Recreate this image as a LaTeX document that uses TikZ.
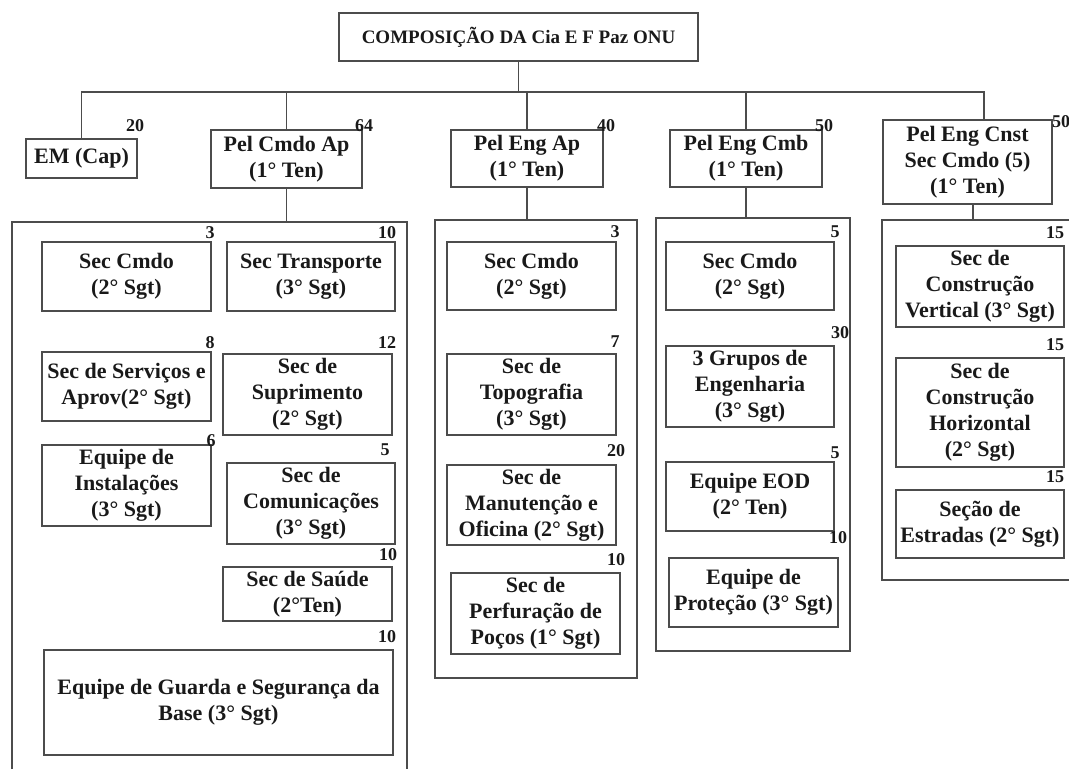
\documentclass[tikz,border=0pt]{standalone}
\usepackage{fontspec}
\setmainfont{Liberation Serif}
\tikzset{
  org/.style={draw=black!70, line width=1.1pt},
  unit/.style={draw=black!70, line width=1.1pt, align=center, inner sep=1pt,
    font=\fontsize{22}{26}\selectfont\bfseries, text=black!90},
  qtd/.style={font=\fontsize{18}{20}\selectfont\bfseries, inner sep=0pt, text=black!90},
}
\begin{document}
\begin{tikzpicture}[x=1pt, y=-1pt]
    \useasboundingbox (0,0) rectangle (1069,769);

    % Company and platoons
    \node[unit, minimum width=359pt, minimum height=48pt, font=\fontsize{19}{22}\selectfont\bfseries] (cia) at (518.5,37) {COMPOSIÇÃO DA Cia E F Paz ONU};
    \node[unit, minimum width=111pt, minimum height=39pt] (em) at (81.5,158.5) {EM (Cap)};
    \node[unit, minimum width=151pt, minimum height=58pt] (pca) at (286.5,159) {Pel Cmdo Ap\\(1° Ten)};
    \node[unit, minimum width=152pt, minimum height=57pt] (pea) at (527,158.5) {Pel Eng Ap\\(1° Ten)};
    \node[unit, minimum width=152pt, minimum height=57pt] (pec) at (746,158.5) {Pel Eng Cmb\\(1° Ten)};
    \node[unit, minimum width=169pt, minimum height=84pt] (pen) at (967.5,162) {Pel Eng Cnst\\Sec Cmdo (5)\\(1° Ten)};

    % Bus and frame tops
    \coordinate (bus) at (0,92);
    \coordinate (top1) at (0,222);
    \coordinate (top2) at (0,220);
    \coordinate (top3) at (0,218);
    \coordinate (top4) at (0,220);
    \coordinate (penin) at ([xshift=16.5pt]pen.north);
    \coordinate (penout) at ([xshift=5.5pt]pen.south);

    % Edges
    \draw[org] (cia.south) -- (cia.south |- bus);
    \draw[org] (em.north) |- (bus -| penin) -- (penin);
    \draw[org] (pca.north) -- (pca.north |- bus);
    \draw[org] (pea.north) -- (pea.north |- bus);
    \draw[org] (pec.north) -- (pec.north |- bus);
    \draw[org] (pca.south) -- (pca.south |- top1);
    \draw[org] (pea.south) -- (pea.south |- top2);
    \draw[org] (pec.south) -- (pec.south |- top3);
    \draw[org] (penout) -- (penout |- top4);

    % Frames
    \draw[org] (12,769) -- (12,222) -- (407,222) -- (407,769);
    \draw[org] (435,220) rectangle (637,678);
    \draw[org] (656,218) rectangle (850,651);
    \draw[org] (1069,220) -- (882,220) -- (882,580) -- (1069,580);

    % Pel Cmdo Ap
    \node[unit, minimum width=169pt, minimum height=69pt] (a1) at (126.5,276.5) {Sec Cmdo\\(2° Sgt)};
    \node[unit, minimum width=168pt, minimum height=69pt] (a2) at (311,276.5) {Sec Transporte\\(3° Sgt)};
    \node[unit, minimum width=169pt, minimum height=69pt] (a3) at (126.5,386.5) {Sec de Serviços e\\Aprov(2° Sgt)};
    \node[unit, minimum width=169pt, minimum height=81pt] (a4) at (307.5,394.5) {Sec de\\Suprimento\\(2° Sgt)};
    \node[unit, minimum width=169pt, minimum height=81pt] (a5) at (126.5,485.5) {Equipe de\\Instalações\\(3° Sgt)};
    \node[unit, minimum width=168pt, minimum height=81pt] (a6) at (311,503.5) {Sec de\\Comunicações\\(3° Sgt)};
    \node[unit, minimum width=169pt, minimum height=54pt] (a7) at (307.5,594) {Sec de Saúde\\(2°Ten)};
    \node[unit, minimum width=349pt, minimum height=105pt] (a8) at (218.5,702.5) {Equipe de Guarda e Segurança da\\Base (3° Sgt)};

    % Pel Eng Ap
    \node[unit, minimum width=169pt, minimum height=68pt] (b1) at (531.5,276) {Sec Cmdo\\(2° Sgt)};
    \node[unit, minimum width=169pt, minimum height=81pt] (b2) at (531.5,394.5) {Sec de\\Topografia\\(3° Sgt)};
    \node[unit, minimum width=169pt, minimum height=80pt] (b3) at (531.5,505) {Sec de\\Manutenção e\\Oficina (2° Sgt)};
    \node[unit, minimum width=169pt, minimum height=81pt] (b4) at (535.5,613.5) {Sec de\\Perfuração de\\Poços (1° Sgt)};

    % Pel Eng Cmb
    \node[unit, minimum width=168pt, minimum height=68pt] (c1) at (750,276) {Sec Cmdo\\(2° Sgt)};
    \node[unit, minimum width=168pt, minimum height=81pt] (c2) at (750,386.5) {3 Grupos de\\Engenharia\\(3° Sgt)};
    \node[unit, minimum width=168pt, minimum height=69pt] (c3) at (750,496.5) {Equipe EOD\\(2° Ten)};
    \node[unit, minimum width=169pt, minimum height=69pt] (c4) at (753.5,592.5) {Equipe de\\Proteção (3° Sgt)};

    % Pel Eng Cnst
    \node[unit, minimum width=168pt, minimum height=81pt] (d1) at (980,286.5) {Sec de\\Construção\\Vertical (3° Sgt)};
    \node[unit, minimum width=168pt, minimum height=109pt] (d2) at (980,412.5) {Sec de\\Construção\\Horizontal\\(2° Sgt)};
    \node[unit, minimum width=168pt, minimum height=68pt] (d3) at (980,524) {Seção de\\Estradas (2° Sgt)};

    % Headcounts
    \foreach \x/\y/\n [count=\i] in {135/126/20, 364/126/64, 606/126/40, 824/126/50, 1061/122/50,
        210/233/3, 387/233/10, 210/343/8, 387/343/12, 211/441/6, 385/450/5, 388/555/10, 387/637/10,
        615/232/3, 615/342/7, 616/451/20, 616/560/10,
        835/232/5, 840/333/30, 835/453/5, 838/538/10,
        1055/233/15, 1055/345/15, 1055/477/15}
        \node[qtd] (q\i) at (\x,\y) {\n};
\end{tikzpicture}
\end{document}
